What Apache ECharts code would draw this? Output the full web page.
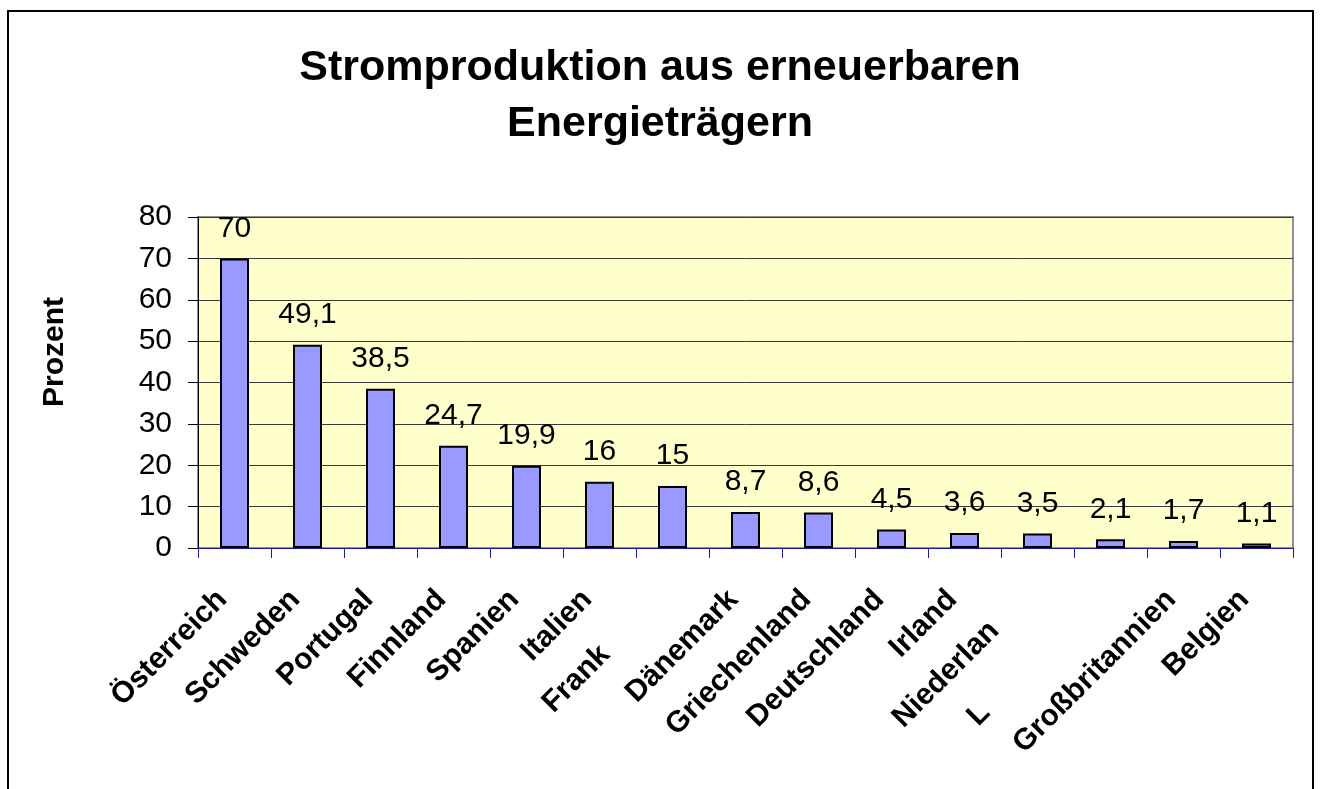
<!DOCTYPE html>
<html>
<head>
<meta charset="utf-8">
<script src="https://cdn.jsdelivr.net/npm/echarts@6/dist/echarts.min.js"></script>
<style>
  html, body { margin: 0; padding: 0; background: #fff; }
  #chart { width: 1320px; height: 789px; }
</style>
</head>
<body>
<div id="chart"></div>
<script>
// Länder (Kategorien)
var countries = ['Österreich', 'Schweden', 'Portugal', 'Finnland', 'Spanien', 'Italien', 'Frankreich',
  'Dänemark', 'Griechenland', 'Deutschland', 'Irland', 'Niederlande', 'Luxemburg', 'Großbritannien', 'Belgien'];
// sichtbare Achsenbeschriftung (im Original abgeschnitten)
var tickLabels = ['Österreich', 'Schweden', 'Portugal', 'Finnland', 'Spanien', 'Italien', 'Frank',
  'Dänemark', 'Griechenland', 'Deutschland', 'Irland', 'Niederlan', 'L', 'Großbritannien', 'Belgien'];
// Anteil in Prozent
var values = [70, 49.1, 38.5, 24.7, 19.9, 16, 15, 8.7, 8.6, 4.5, 3.6, 3.5, 2.1, 1.7, 1.1];
var yTicks = [0, 10, 20, 30, 40, 50, 60, 70, 80];

var font = 'Liberation Sans, Arial, sans-serif';
var chart = echarts.init(document.getElementById('chart'));

// abgeschnittene Labels liegen tiefer -> mehr Abstand rechts
var cutStyle = {
  'Frank': 'cutA',
  'Niederlan': 'cutB',
  'L': 'cutC'
};

function labelRich(pad) {
  return { fontFamily: font, fontSize: 30, fontWeight: 'bold', color: '#000', padding: [0, pad, 0, 0] };
}

var option = {
  backgroundColor: '#fff',
  animation: false,
  title: {
    text: 'Stromproduktion aus erneuerbaren\nEnergieträgern',
    left: 'center',
    top: 35,
    textStyle: {
      fontFamily: font,
      fontSize: 43,
      fontWeight: 'bold',
      lineHeight: 56,
      color: '#000'
    }
  },
  graphic: [
    {
      type: 'rect',
      shape: { x: 8, y: 11, width: 1305, height: 800 },
      style: { fill: 'none', stroke: '#000', lineWidth: 2 },
      silent: true
    },
    {
      type: 'text',
      x: 55,
      y: 352,
      rotation: Math.PI / 2,
      style: {
        text: 'Prozent',
        fontFamily: font,
        fontSize: 30,
        fontWeight: 'bold',
        fill: '#000',
        align: 'center',
        verticalAlign: 'middle'
      }
    }
  ],
  grid: {
    left: 198,
    right: 27,
    top: 217,
    bottom: 241,
    show: true,
    backgroundColor: '#FFFFCC',
    borderColor: '#909090',
    borderWidth: 2
  },
  xAxis: {
    type: 'category',
    data: countries,
    axisLine: { lineStyle: { color: '#1c1ca0', width: 1 } },
    axisTick: { show: true, length: 10, lineStyle: { color: '#1c1ca0' } },
    axisLabel: {
      interval: 0,
      rotate: 45,
      margin: 35,
      fontFamily: font,
      fontSize: 30,
      fontWeight: 'bold',
      color: '#000',
      formatter: function (v, i) {
        var t = tickLabels[i];
        return '{' + (cutStyle[t] || 'n') + '|' + t + '}';
      },
      rich: {
        n: labelRich(17),
        cutA: labelRich(95),
        cutB: labelRich(61),
        cutC: labelRich(177)
      }
    }
  },
  yAxis: {
    type: 'value',
    min: yTicks[0],
    max: yTicks[yTicks.length - 1],
    interval: 10,
    axisLine: { show: true, lineStyle: { color: '#000', width: 1 } },
    axisTick: { show: true, length: 10, lineStyle: { color: '#000' } },
    axisLabel: {
      margin: 26,
      fontFamily: font,
      fontSize: 30,
      color: '#000'
    },
    splitLine: { show: true, lineStyle: { color: '#3a3a3a', width: 1 } }
  },
  series: [
    {
      type: 'bar',
      data: values,
      barWidth: 29,
      itemStyle: {
        color: '#9999FF',
        borderColor: '#000',
        borderWidth: 2
      },
      label: {
        show: true,
        position: 'top',
        distance: 15,
        fontFamily: font,
        fontSize: 30,
        color: '#000',
        formatter: function (p) {
          return String(p.value).replace('.', ',');
        }
      }
    }
  ]
};

chart.setOption(option);
</script>
</body>
</html>
